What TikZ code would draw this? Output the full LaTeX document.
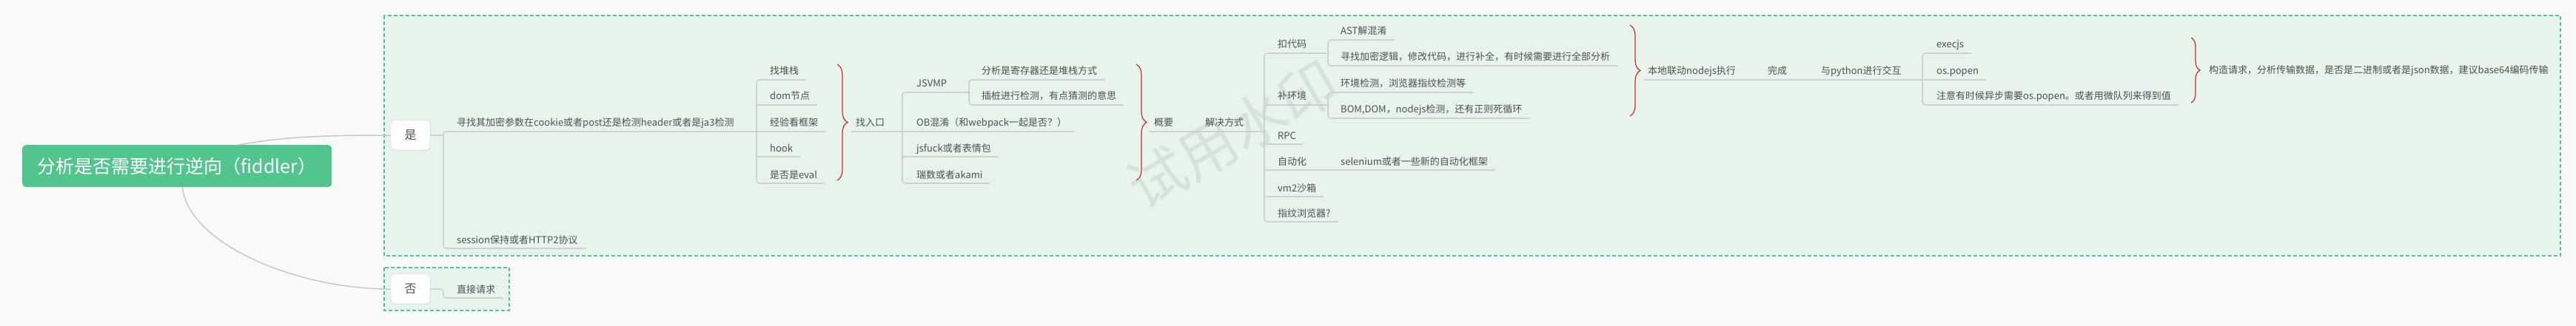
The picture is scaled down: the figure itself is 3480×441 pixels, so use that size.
\documentclass[tikz,border=0pt]{standalone}
\usepackage{fontspec}
\setmainfont{Noto Sans CJK SC}
\usetikzlibrary{calc,decorations.pathreplacing,shadows}
\definecolor{bgc}{RGB}{249,249,249}
\definecolor{grn}{RGB}{82,196,141}
\definecolor{pale}{RGB}{230,244,236}
\definecolor{txt}{RGB}{80,80,80}
\definecolor{lin}{RGB}{208,208,208}
\definecolor{conc}{RGB}{200,200,200}
\definecolor{brc}{RGB}{212,40,40}
\definecolor{wm}{RGB}{213,227,219}
\begin{document}
\begin{tikzpicture}[x=1pt,y=-1pt,
  lbl/.style={anchor=base west, inner sep=0pt, text=txt, font=\fontsize{13pt}{15pt}\selectfont},
  uline/.style={draw=lin, line width=1.6pt},
  conn/.style={draw=conc, line width=1.5pt},
  yesbox/.style={fill=white, draw=lin!60, line width=0.6pt, rounded corners=6pt, minimum width=53pt, minimum height=40pt, inner sep=0pt, text=txt, font=\fontsize{16pt}{18pt}\selectfont, drop shadow={shadow xshift=0.6pt, shadow yshift=-1.2pt, opacity=0.18}},
  grpbox/.style={draw=grn, fill=pale, line width=2pt, dash pattern=on 5pt off 3pt},
  brace/.style={draw=brc, line width=1.2pt, decorate, decoration={brace, amplitude=14pt}}]
\useasboundingbox (0,0) rectangle (3480,441);
\fill[bgc] (0,0) rectangle (3480,441);
% group boxes
\path[grpbox] (519,21) rectangle (3459,346);
\path[grpbox] (519,362) rectangle (688,420);
% watermark
\node[rotate=30, text=wm, inner sep=0pt, font=\fontsize{78pt}{80pt}\selectfont] (wmk) at (1665,182) {试用水印};
% root
\node[fill=grn, rounded corners=5pt, minimum width=418pt, minimum height=57pt, inner sep=0pt, text=white, font=\fontsize{25pt}{28pt}\selectfont, anchor=north west] (root) at (30,196) {分析是否需要进行逆向（fiddler）};
\node[yesbox] (yes) at (554.5,183) {是};
\node[yesbox] (no) at (554.5,391) {否};
\coordinate (r1) at ($(root.north west)!0.698!(root.north east)$);
\coordinate (r2) at ($(root.south west)!0.517!(root.south east)$);
\draw[conn] (r1) .. controls (380,186) and (420,183) .. (yes.west);
\draw[conn] (r2) .. controls (255,330) and (400,391) .. (no.west);
% level 2
\node[lbl] (a1) at (617,171) {寻找其加密参数在cookie或者post还是检测header或者是ja3检测};
\node[lbl] (a2) at (617,329) {session保持或者HTTP2协议};
\node[lbl] (n1) at (617,396) {直接请求};
\coordinate (sa) at (599,183);
\draw[uline] (yes.east) -- (sa);
\draw[uline, rounded corners=4pt] (1022,178) -- (599,178) -- (599,336) -- ($(a2.base east)+(10,7)$);
\draw[uline, rounded corners=4pt] (no.east) -- (599,391) -- (599,403) -- ($(n1.base east)+(10,7)$);
% level 3 under a1
\node[lbl] (b1) at (1040,101) {找堆栈};
\node[lbl] (b2) at (1040,135) {dom节点};
\node[lbl] (b3) at (1040,171) {经验看框架};
\node[lbl] (b4) at (1040,205) {hook};
\node[lbl] (b5) at (1040,241) {是否是eval};
\draw[uline, rounded corners=4pt] ($(b1.base east)+(10,7)$) -- (1022,108) -- (1022,248) -- ($(b5.base east)+(10,7)$);
\draw[uline] (1022,142) -- ($(b2.base east)+(10,7)$);
\draw[uline] (1022,178) -- ($(b3.base east)+(10,7)$);
\draw[uline] (1022,212) -- ($(b4.base east)+(10,7)$);
\draw[brace] (1131,87) -- (1131,244);
% 找入口
\node[lbl] (c0) at (1156,171) {找入口};
\draw[uline] (1150,178) -- (1219,178);
\node[lbl] (c1) at (1238,118) {JSVMP};
\node[lbl] (c2) at (1238,171) {OB混淆（和webpack一起是否？）};
\node[lbl] (c3) at (1238,205) {jsfuck或者表情包};
\node[lbl] (c4) at (1238,241) {瑞数或者akami};
\draw[uline, rounded corners=4pt] (1309,125) -- (1219,125) -- (1219,248) -- ($(c4.base east)+(10,7)$);
\draw[uline] (1219,178) -- ($(c2.base east)+(10,7)$);
\draw[uline] (1219,212) -- ($(c3.base east)+(10,7)$);
\node[lbl] (d1) at (1326,101) {分析是寄存器还是堆栈方式};
\node[lbl] (d2) at (1326,135) {插桩进行检测，有点猜测的意思};
\draw[uline, rounded corners=4pt] ($(d1.base east)+(10,7)$) -- (1309,108) -- (1309,142) -- ($(d2.base east)+(10,7)$);
\draw[brace] (1535,87) -- (1535,244);
% 概要 / 解决方式
\node[lbl] (s0) at (1559,171) {概要};
\node[lbl] (s1) at (1628,171) {解决方式};
\draw[uline] (1553,178) -- (1592,178);
\draw[uline] (1592,178) -- (1708,178);
\node[lbl] (e1) at (1726,65) {扣代码};
\node[lbl] (e2) at (1726,135) {补环境};
\node[lbl] (e3) at (1726,188) {RPC};
\node[lbl] (e4) at (1726,223) {自动化};
\node[lbl] (e5) at (1726,259) {vm2沙箱};
\node[lbl] (e6) at (1726,293) {指纹浏览器?};
\draw[uline, rounded corners=4pt] (1794,72) -- (1708,72) -- (1708,300) -- ($(e6.base east)+(10,7)$);
\draw[uline] (1708,142) -- (1794,142);
\draw[uline] (1708,195) -- ($(e3.base east)+(10,7)$);
\draw[uline] (1708,230) -- (1794,230);
\draw[uline] (1708,266) -- ($(e5.base east)+(10,7)$);
\node[lbl] (f1) at (1811,47) {AST解混淆};
\node[lbl] (f2) at (1811,82) {寻找加密逻辑，修改代码，进行补全，有时候需要进行全部分析};
\draw[uline, rounded corners=4pt] ($(f1.base east)+(10,7)$) -- (1794,54) -- (1794,89) -- ($(f2.base east)+(10,7)$);
\node[lbl] (g1) at (1811,118) {环境检测，浏览器指纹检测等};
\node[lbl] (g2) at (1811,153) {BOM,DOM，nodejs检测，还有正则死循环};
\draw[uline, rounded corners=4pt] ($(g1.base east)+(10,7)$) -- (1794,125) -- (1794,160) -- ($(g2.base east)+(10,7)$);
\node[lbl] (h1) at (1811,223) {selenium或者一些新的自动化框架};
\draw[uline] (1794,230) -- ($(h1.base east)+(10,7)$);
\draw[brace] (2202,34) -- (2202,157);
% 本地联动
\node[lbl] (j1) at (2226,101) {本地联动nodejs执行};
\node[lbl] (j2) at (2388,101) {完成};
\node[lbl] (j3) at (2460,101) {与python进行交互};
\draw[uline] (2221,108) -- (2370,108);
\draw[uline] (2370,108) -- (2443,108);
\draw[uline] (2443,108) -- (2597,108);
\node[lbl] (i1) at (2616,65) {execjs};
\node[lbl] (i2) at (2616,101) {os.popen};
\node[lbl] (i3) at (2616,135) {注意有时候异步需要os.popen。或者用微队列来得到值};
\draw[uline, rounded corners=4pt] ($(i1.base east)+(10,7)$) -- (2597,72) -- (2597,142) -- ($(i3.base east)+(10,7)$);
\draw[uline] (2597,108) -- ($(i2.base east)+(10,7)$);
\draw[brace, decoration={brace, amplitude=12pt}] (2960,51) -- (2960,139);
\node[lbl] (k1) at (2984,100) {构造请求，分析传输数据，是否是二进制或者是json数据，建议base64编码传输};
\end{tikzpicture}
\end{document}
